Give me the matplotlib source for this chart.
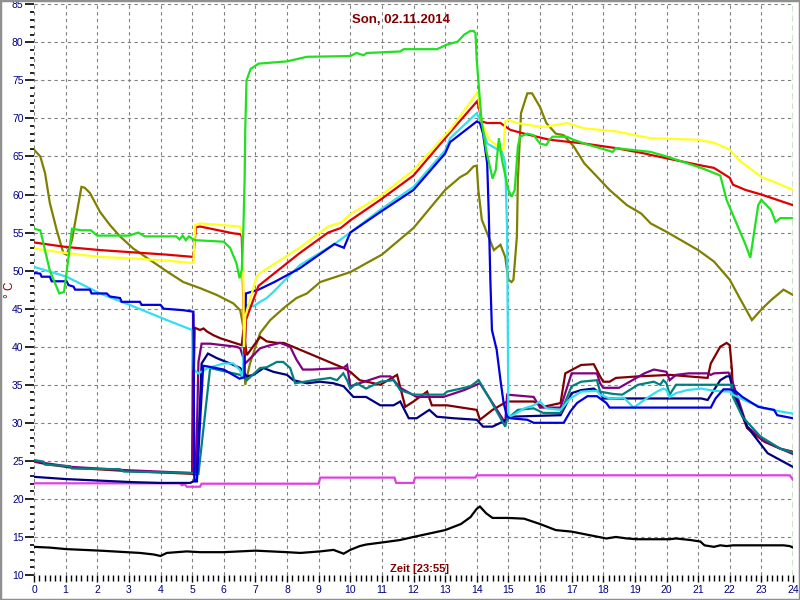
import matplotlib
matplotlib.use("Agg")
import matplotlib.pyplot as plt
from matplotlib.ticker import MultipleLocator
from matplotlib.patches import Rectangle

plt.rcParams['font.family'] = ['Liberation Sans', 'DejaVu Sans']

# sensor curves: hour -> temperature
green_t = [0, 0.2, 0.5, 0.8, 0.95, 1.1, 1.2, 1.5, 1.8, 2.0, 3.0, 3.3, 3.5, 4.5, 4.6, 4.7, 4.8, 4.9, 5.0, 5.1, 6.0, 6.2, 6.4, 6.5, 6.57, 6.62, 6.66, 6.68, 6.72, 6.85, 7.1, 8.0, 8.42, 8.63, 10.0, 10.2, 10.42, 10.52, 11.58, 11.69, 12.74, 13.06, 13.4, 13.6, 13.8, 13.9, 13.96, 14.0, 14.05, 14.15, 14.3, 14.5, 14.6, 14.7, 14.8, 15.0, 15.1, 15.2, 15.3, 15.37, 15.6, 15.8, 16.0, 16.2, 16.3, 16.4, 16.85, 17.06, 17.4, 17.9, 18.3, 18.4, 19.5, 20.0, 21.1, 21.7, 21.9, 22.5, 22.65, 22.9, 23.0, 23.3, 23.45, 23.6, 24.0]
green_v = [55.5, 55.3, 50.0, 47.0, 47.2, 52.0, 55.5, 55.3, 55.3, 54.6, 54.6, 55.0, 54.5, 54.5, 54.1, 54.6, 54.0, 54.5, 54.2, 54.0, 53.8, 53.0, 51.0, 49.0, 50.1, 55.4, 62.0, 68.6, 75.0, 76.5, 77.2, 77.5, 77.9, 78.1, 78.2, 78.6, 78.3, 78.6, 78.8, 79.1, 79.1, 79.7, 80.1, 81.0, 81.5, 81.5, 81.2, 77.7, 75.0, 69.8, 65.8, 62.1, 63.2, 67.4, 64.5, 60.6, 59.7, 60.6, 66.3, 67.6, 68.0, 67.8, 66.7, 66.5, 67.2, 67.6, 67.6, 67.2, 66.7, 66.1, 65.6, 66.1, 65.6, 65.0, 63.5, 62.5, 59.3, 53.4, 51.7, 58.6, 59.3, 58.0, 56.4, 56.9, 56.9]

yellow_t = [0, 1.03, 2.09, 3.14, 4.2, 5.04, 5.1, 5.25, 6.52, 6.6, 6.64, 6.68, 7.04, 7.15, 8.4, 9.3, 9.7, 10.0, 10.95, 12.0, 13.0, 13.16, 14.0, 14.05, 14.16, 14.4, 14.8, 14.85, 14.9, 15.0, 15.27, 16.0, 16.2, 16.85, 17.4, 18.4, 19.5, 21.0, 21.5, 22.0, 22.3, 23.0, 23.5, 24.0]
yellow_v = [52.9, 52.3, 51.8, 51.6, 51.3, 51.0, 56.0, 56.2, 55.8, 54.5, 40.0, 44.0, 49.2, 49.7, 53.0, 55.8, 56.3, 57.4, 59.8, 63.2, 67.8, 68.5, 73.3, 72.9, 69.4, 67.2, 65.9, 66.1, 69.6, 69.8, 69.4, 68.9, 68.9, 69.4, 68.7, 68.3, 67.4, 67.2, 66.8, 65.9, 64.5, 62.3, 61.5, 60.6]

red_t = [0, 1.03, 2.09, 3.14, 4.2, 5.04, 5.12, 5.25, 6.3, 6.52, 6.57, 6.62, 6.66, 6.7, 7.1, 8.4, 9.3, 9.7, 10.0, 10.95, 12.0, 13.0, 13.16, 14.0, 14.05, 14.16, 14.33, 14.75, 15.06, 15.5, 15.9, 16.3, 17.4, 18.4, 19.3, 19.5, 21.0, 21.5, 22.0, 22.1, 22.5, 23.0, 23.5, 24.0]
red_v = [53.7, 53.1, 52.7, 52.4, 52.1, 51.8, 55.7, 55.8, 54.9, 54.8, 54.5, 45.7, 39.0, 43.5, 48.0, 52.3, 55.0, 55.6, 56.6, 59.3, 62.5, 67.4, 68.2, 72.2, 71.8, 69.6, 69.4, 69.4, 68.5, 68.0, 67.6, 67.2, 66.7, 66.1, 65.4, 65.2, 63.9, 63.5, 62.2, 61.3, 60.6, 60.0, 59.3, 58.6]

cyan_t = [0, 1.03, 2.09, 3.14, 4.2, 5.0, 5.05, 5.2, 5.5, 6.0, 6.3, 6.5, 6.6, 6.68, 6.94, 7.15, 7.36, 7.57, 7.78, 8.4, 9.5, 10.0, 10.95, 12.0, 13.0, 13.16, 14.0, 14.1, 14.33, 14.8, 14.9, 14.96, 15.0, 15.15, 15.5, 15.8, 16.0, 16.2, 16.65, 16.96, 17.3, 17.8, 17.9, 18.2, 18.65, 18.96, 19.4, 19.7, 19.9, 20.0, 20.1, 20.3, 20.65, 21.1, 21.5, 22.0, 22.1, 22.55, 23.1, 23.6, 24.0]
cyan_v = [50.5, 49.2, 47.0, 45.3, 43.5, 42.2, 37.0, 36.5, 37.2, 37.8, 37.8, 37.0, 36.0, 45.5, 45.3, 45.9, 46.4, 47.2, 48.1, 50.7, 53.5, 55.0, 58.0, 61.0, 65.8, 67.4, 70.7, 69.8, 66.7, 65.6, 64.1, 55.3, 30.8, 31.0, 31.9, 32.3, 32.8, 31.9, 31.7, 33.2, 34.1, 34.2, 33.7, 33.2, 33.3, 32.0, 33.3, 34.1, 34.5, 34.3, 33.4, 33.9, 34.3, 34.5, 34.2, 34.1, 33.7, 32.8, 31.9, 31.5, 31.2]

blue_t = [0, 0.2, 0.24, 0.5, 0.56, 1.03, 1.09, 1.25, 1.3, 1.77, 1.82, 2.3, 2.4, 2.72, 2.77, 3.35, 3.4, 4.0, 4.1, 4.72, 5.04, 5.07, 5.15, 5.35, 5.5, 6.0, 6.5, 6.65, 6.7, 7.1, 7.6, 8.4, 9.5, 9.8, 10.0, 10.95, 12.0, 13.0, 13.16, 14.0, 14.1, 14.2, 14.33, 14.38, 14.43, 14.48, 14.63, 14.75, 14.85, 14.96, 15.06, 15.6, 15.8, 16.75, 16.96, 17.17, 17.5, 17.8, 18.1, 18.2, 21.4, 21.55, 21.8, 22.0, 22.2, 22.4, 22.9, 23.4, 23.5, 24.0]
blue_v = [49.7, 49.6, 49.2, 49.2, 48.6, 48.6, 48.1, 47.9, 47.5, 47.5, 47.0, 47.0, 46.6, 46.4, 45.9, 45.9, 45.5, 45.5, 45.0, 44.8, 44.6, 22.5, 22.5, 37.5, 37.4, 37.0, 35.8, 36.0, 47.0, 47.5, 48.5, 50.3, 53.5, 53.0, 55.0, 57.7, 60.6, 65.4, 66.9, 69.6, 69.4, 68.0, 64.1, 57.5, 48.8, 42.2, 39.6, 35.6, 32.6, 30.8, 30.6, 30.4, 30.0, 30.0, 31.5, 32.6, 33.5, 33.5, 32.6, 32.0, 32.0, 33.2, 34.4, 34.4, 34.1, 33.4, 32.1, 31.7, 31.0, 30.6]

olive_t = [0, 0.2, 0.35, 0.5, 0.72, 0.93, 1.03, 1.2, 1.35, 1.5, 1.6, 1.77, 2.09, 2.4, 2.72, 3.14, 3.67, 4.2, 4.72, 5.25, 5.78, 6.3, 6.52, 6.62, 6.68, 6.83, 7.15, 7.47, 7.9, 8.3, 8.63, 9.05, 10.0, 11.0, 12.0, 13.0, 13.48, 13.7, 13.9, 14.0, 14.05, 14.16, 14.33, 14.54, 14.75, 14.9, 15.0, 15.1, 15.16, 15.27, 15.3, 15.4, 15.6, 15.75, 16.0, 16.2, 16.5, 16.75, 17.07, 17.4, 17.7, 18.2, 18.75, 19.2, 19.5, 20.0, 21.0, 21.5, 22.0, 22.3, 22.7, 23.0, 23.3, 23.7, 24.0]
olive_v = [65.9, 65.0, 62.8, 58.9, 55.3, 52.3, 52.1, 54.0, 57.5, 61.0, 60.9, 60.2, 57.7, 56.0, 54.5, 52.9, 51.4, 49.9, 48.5, 47.7, 46.8, 45.7, 44.8, 42.6, 35.0, 37.8, 41.8, 43.5, 45.1, 46.4, 47.0, 48.5, 49.8, 52.1, 55.6, 60.6, 62.3, 62.8, 63.7, 63.8, 60.6, 56.7, 54.9, 52.7, 53.4, 51.8, 48.8, 48.5, 48.8, 54.5, 61.9, 70.7, 73.3, 73.3, 71.5, 69.4, 68.0, 67.8, 66.3, 64.1, 62.8, 60.6, 58.6, 57.5, 56.2, 55.1, 52.7, 51.2, 48.8, 46.5, 43.5, 44.9, 46.1, 47.5, 46.8]

maroon_t = [0, 0.35, 1.2, 2.8, 5.0, 5.08, 5.25, 5.36, 5.47, 5.68, 5.9, 6.57, 6.62, 6.73, 7.15, 7.36, 7.68, 7.9, 9.79, 10.0, 10.3, 10.74, 10.95, 11.48, 11.74, 12.0, 12.43, 12.58, 13.06, 14.0, 14.1, 14.5, 14.96, 15.8, 16.1, 16.65, 16.8, 17.3, 17.7, 17.9, 18.0, 18.2, 18.4, 19.1, 20.1, 21.3, 21.4, 21.7, 21.9, 22.0, 22.07, 22.1, 22.55, 23.1, 23.6, 24.0]
maroon_v = [24.9, 24.6, 24.1, 23.7, 23.3, 42.5, 42.2, 42.4, 42.0, 41.5, 41.1, 40.2, 42.2, 38.9, 41.3, 40.7, 40.5, 40.5, 37.2, 36.7, 35.6, 35.2, 35.0, 36.3, 32.1, 32.8, 34.1, 32.3, 32.3, 31.7, 30.4, 31.7, 32.8, 32.8, 32.1, 32.6, 36.5, 37.6, 37.7, 36.1, 35.4, 35.4, 35.9, 36.1, 36.3, 35.9, 37.8, 40.0, 40.5, 40.2, 36.9, 34.1, 29.3, 27.5, 26.6, 26.2]

purple_t = [0, 0.35, 1.2, 2.8, 5.0, 5.03, 5.07, 5.12, 5.2, 5.3, 5.57, 6.4, 6.52, 6.68, 7.15, 7.47, 7.78, 8.1, 8.3, 8.5, 8.8, 9.78, 9.9, 10.0, 10.95, 11.27, 11.58, 12.1, 12.95, 13.6, 14.1, 14.9, 14.96, 15.8, 16.0, 16.65, 17.0, 17.8, 17.9, 18.0, 18.5, 19.3, 19.6, 20.0, 20.1, 20.3, 20.7, 21.3, 21.4, 21.5, 21.96, 22.07, 22.55, 23.1, 23.6, 24.0]
purple_v = [25.0, 24.7, 24.2, 23.8, 23.4, 44.3, 23.2, 23.2, 38.0, 40.4, 40.4, 40.0, 39.8, 37.8, 39.8, 40.2, 40.5, 40.0, 38.3, 37.0, 37.0, 37.2, 37.6, 34.8, 36.1, 36.1, 34.6, 33.4, 33.4, 34.3, 35.2, 30.0, 33.7, 33.4, 32.0, 32.0, 36.5, 36.5, 35.2, 34.6, 34.6, 36.5, 37.0, 36.7, 35.6, 36.3, 36.5, 36.5, 36.3, 36.5, 36.6, 35.6, 29.5, 27.6, 26.6, 25.9]

teal_t = [0, 0.3, 0.35, 1.14, 1.2, 2.72, 2.83, 5.04, 5.2, 5.57, 6.52, 6.73, 7.15, 7.36, 7.68, 7.88, 8.1, 8.26, 8.84, 9.37, 9.58, 9.78, 9.9, 10.0, 10.2, 10.5, 10.95, 11.37, 11.58, 12.0, 12.95, 13.06, 13.5, 13.8, 14.06, 14.43, 14.9, 14.96, 15.3, 15.8, 16.1, 16.65, 17.0, 17.3, 17.8, 17.9, 18.3, 18.6, 19.1, 19.6, 19.8, 19.9, 20.0, 20.1, 20.3, 22.07, 22.1, 22.4, 22.97, 23.6, 24.0]
teal_v = [25.1, 24.9, 24.5, 24.3, 24.0, 23.9, 23.6, 23.4, 23.3, 37.2, 36.3, 35.6, 37.2, 37.3, 38.0, 38.0, 37.2, 35.2, 35.6, 35.9, 35.6, 36.5, 35.6, 34.5, 35.2, 34.5, 35.4, 35.6, 34.3, 33.7, 33.7, 34.1, 34.5, 34.8, 35.6, 33.0, 29.5, 30.5, 31.7, 31.9, 31.3, 31.3, 34.8, 35.4, 35.6, 34.1, 33.8, 33.7, 35.0, 35.4, 35.0, 35.6, 35.2, 33.7, 35.0, 35.0, 33.4, 30.8, 28.2, 26.6, 26.1]

navy_t = [0, 1.03, 2.09, 3.14, 4.0, 4.94, 5.04, 5.15, 5.3, 5.5, 5.78, 6.2, 6.52, 6.73, 6.94, 7.26, 7.57, 8.0, 8.2, 8.63, 9.05, 9.47, 9.79, 10.1, 10.5, 10.95, 11.37, 11.58, 11.85, 12.1, 12.5, 12.74, 13.27, 14.0, 14.2, 14.5, 14.85, 15.06, 15.8, 16.65, 16.85, 17.0, 17.3, 17.7, 17.9, 18.0, 21.1, 21.3, 21.5, 21.7, 21.9, 22.0, 22.1, 22.55, 23.2, 24.0]
navy_v = [22.9, 22.6, 22.4, 22.2, 22.1, 22.1, 22.3, 22.3, 37.8, 39.1, 38.5, 37.8, 37.2, 36.1, 36.3, 37.2, 36.7, 36.3, 35.6, 35.2, 35.4, 35.2, 34.8, 33.4, 33.4, 32.3, 32.3, 32.8, 30.6, 30.6, 31.7, 30.8, 30.6, 30.4, 29.5, 29.5, 30.2, 30.8, 30.9, 31.0, 32.6, 33.9, 34.3, 34.5, 33.9, 33.2, 33.2, 33.0, 34.3, 35.6, 36.1, 36.1, 34.3, 29.5, 26.0, 24.2]

magenta_t = [0, 4.62, 4.67, 4.78, 4.83, 5.25, 5.3, 9.0, 9.05, 11.4, 11.45, 12.0, 12.05, 13.95, 14.0, 23.9, 24.0]
magenta_v = [22.05, 22.05, 21.8, 21.9, 21.6, 21.6, 22.0, 22.0, 22.8, 22.8, 22.1, 22.1, 22.8, 22.8, 23.1, 23.1, 22.5]

black_t = [0, 0.5, 1.03, 2.09, 2.93, 3.35, 3.78, 4.0, 4.2, 4.83, 5.25, 6.0, 7.0, 8.0, 8.42, 9.05, 9.47, 9.79, 10.0, 10.3, 10.5, 11.05, 11.58, 12.0, 13.0, 13.5, 13.8, 14.0, 14.1, 14.3, 14.5, 15.0, 15.5, 16.0, 16.5, 17.0, 18.1, 18.4, 18.75, 19.07, 20.1, 20.3, 20.75, 21.07, 21.2, 21.5, 21.7, 21.9, 22.1, 23.7, 23.9, 24.0]
black_v = [13.7, 13.6, 13.4, 13.2, 13.0, 12.9, 12.7, 12.5, 12.9, 13.1, 13.0, 13.0, 13.2, 13.0, 12.9, 13.1, 13.3, 12.8, 13.3, 13.8, 14.0, 14.3, 14.6, 15.0, 15.9, 16.7, 17.6, 18.7, 19.0, 18.1, 17.5, 17.5, 17.4, 16.7, 15.9, 15.7, 14.8, 15.0, 14.8, 14.7, 14.7, 14.8, 14.6, 14.4, 13.9, 13.7, 13.9, 13.8, 13.9, 13.9, 13.8, 13.6]

series = [
    (black_t, black_v, '#000000'),
    (magenta_t, magenta_v, '#E040E0'),
    (olive_t, olive_v, '#808000'),
    (maroon_t, maroon_v, '#800000'),
    (purple_t, purple_v, '#800080'),
    (navy_t, navy_v, '#000080'),
    (teal_t, teal_v, '#008080'),
    (cyan_t, cyan_v, '#30E0F0'),
    (blue_t, blue_v, '#0000E0'),
    (red_t, red_v, '#E00000'),
    (yellow_t, yellow_v, '#FFFF20'),
    (green_t, green_v, '#20E020'),
]

title = "Son, 02.11.2014"
xlabel = "Zeit [23:55]"

fig = plt.figure(figsize=(8, 6), dpi=100)
ax = fig.add_axes([34 / 800, 25 / 600, 759 / 800, 570.7 / 600])

for t, v, c in series:
    ax.plot(t, v, color=c, lw=1.6, solid_joinstyle='miter')

ax.axvline(24, color='#008000', lw=1, ls=(0, (4, 3)))

ax.set_xlim(0, 24)
ax.set_ylim(10, 85)
ax.xaxis.set_major_locator(MultipleLocator(1))
ax.xaxis.set_minor_locator(MultipleLocator(1 / 6))
ax.yaxis.set_major_locator(MultipleLocator(5))
ax.yaxis.set_minor_locator(MultipleLocator(1))
ax.grid(True, which='major', color='#808080', ls=(0, (3, 3)), lw=0.8)
for s in ax.spines.values():
    s.set_visible(False)

ax.tick_params(axis='y', which='major', length=6.5, width=1.2, color='black',
               labelsize=7.5, labelcolor='#000080', pad=1)
ax.tick_params(axis='y', which='minor', length=3, width=1.2, color='black')
ax.tick_params(axis='x', which='major', length=5, width=1, color='black',
               labelsize=7.5, labelcolor='#000080', pad=2)
ax.tick_params(axis='x', which='minor', length=4, width=1, color='black')

ax.text(11.6, 83.0, title, ha='center', va='center', color='#800000',
        fontsize=9.5, fontweight='bold')
ax.text(12.2, 10.8, xlabel, ha='center', va='center', color='#800000',
        fontsize=8, fontweight='bold')
fig.text(10 / 800, 1 - 290 / 600, "° C", rotation=90, ha='center', va='center',
         color='#800000', fontsize=8.5)

fig.patches.append(Rectangle((0, 0), 1, 1, transform=fig.transFigure, fill=False,
                             edgecolor='#909090', lw=2.5))

fig.savefig("out.png", dpi=100)
